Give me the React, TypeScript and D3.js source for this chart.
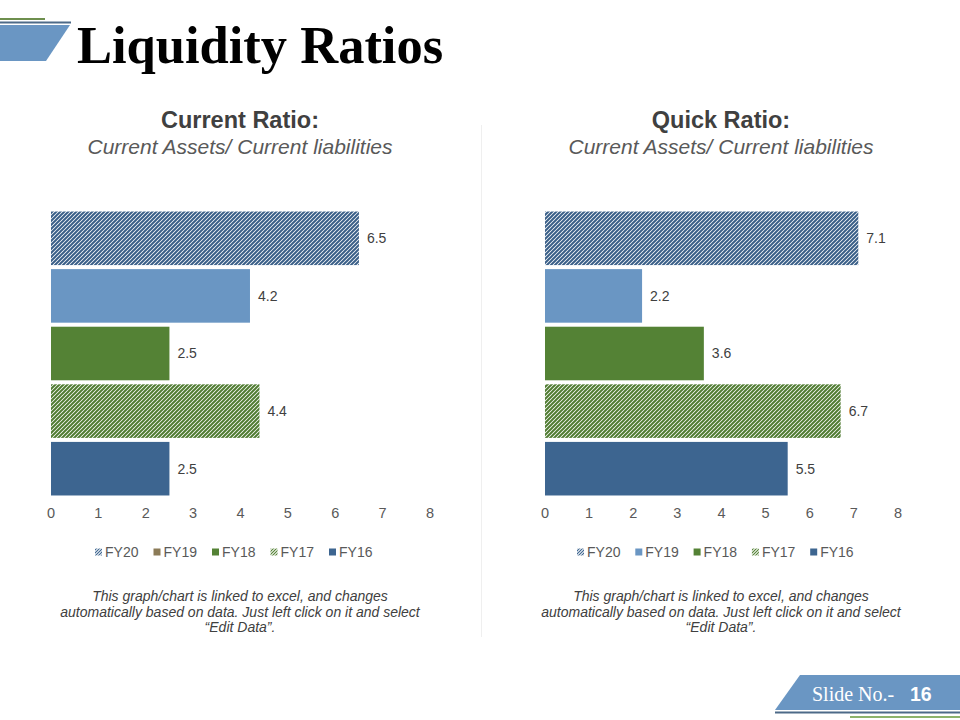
import React from "react";
import * as d3 from "d3";

const categories = ["FY20", "FY19", "FY18", "FY17", "FY16"];
const currentRatio = [6.5, 4.2, 2.5, 4.4, 2.5];
const quickRatio = [7.1, 2.2, 3.6, 6.7, 5.5];
const xTicks = [0, 1, 2, 3, 4, 5, 6, 7, 8];
const leftLegendColors = ["hatchBlue", "#8B7B57", "#548235", "hatchGreen", "#3D6590"];
const rightLegendColors = ["hatchBlue", "#6A96C3", "#548235", "hatchGreen", "#3D6590"];
const barFills = ["url(#hatchBlue)", "#6A96C3", "#548235", "url(#hatchGreen)", "#3D6590"];
const footnote = [
  "This graph/chart is linked to excel, and changes",
  "automatically based on data. Just left click on it and select",
  "\u201cEdit Data\u201d.",
];

const SANS = "'Liberation Sans', Arial, sans-serif";
const SERIF = "'Liberation Serif', 'Times New Roman', serif";

type ChartProps = {
  cx: number;
  x0: number;
  x1: number;
  values: number[];
  title: string;
  subtitle: string;
  legendColors: string[];
  legendStart: number;
  legendStep: number;
};

function Chart({ cx, x0, x1, values, title, subtitle, legendColors, legendStart, legendStep }: ChartProps) {
  const x = d3.scaleLinear().domain([0, 8]).range([x0, x1]);
  const y = d3.scaleBand<string>().domain(categories).range([209.5, 497.5]).paddingInner(0.07).paddingOuter(0.035);
  return (
    <g>
      <text x={cx} y={128} textAnchor="middle" fontFamily={SANS} fontWeight="bold" fontSize={23.5} fill="#404040">
        {title}
      </text>
      <text x={cx} y={154} textAnchor="middle" fontFamily={SANS} fontStyle="italic" fontSize={21} fill="#595959">
        {subtitle}
      </text>
      {categories.map((c, i) => (
        <g key={c}>
          <rect x={x(0)} y={y(c)} width={x(values[i]) - x(0)} height={y.bandwidth()} fill={barFills[i]} />
          <text
            x={x(values[i]) + 8}
            y={(y(c) as number) + y.bandwidth() / 2}
            dy="0.35em"
            fontFamily={SANS}
            fontSize={14}
            fill="#404040"
          >
            {values[i].toFixed(1)}
          </text>
        </g>
      ))}
      {xTicks.map((t) => (
        <text key={t} x={x(t)} y={518} textAnchor="middle" fontFamily={SANS} fontSize={14.5} fill="#595959">
          {t}
        </text>
      ))}
      {categories.map((c, i) => {
        const lx = legendStart + i * legendStep;
        const col = legendColors[i];
        const fill = col.startsWith("hatch") ? `url(#${col}L)` : col;
        return (
          <g key={c}>
            <rect x={lx} y={548.5} width={7} height={7} fill={fill} />
            <text x={lx + 10} y={557} fontFamily={SANS} fontSize={14} fill="#595959">
              {c}
            </text>
          </g>
        );
      })}
      {footnote.map((l, i) => (
        <text
          key={i}
          x={cx}
          y={601 + i * 15.5}
          textAnchor="middle"
          fontFamily={SANS}
          fontStyle="italic"
          fontSize={14}
          fill="#404040"
        >
          {l}
        </text>
      ))}
    </g>
  );
}

export default function App() {
  return (
    <svg width={960} height={720} style={{ position: "absolute", left: 0, top: 0, background: "#fff" }}>
      <defs>
        <pattern id="hatchBlue" patternUnits="userSpaceOnUse" width={4} height={4}>
          <rect width={4} height={4} fill="#ffffff" />
          <path d="M-1,1 l2,-2 M0,4 l4,-4 M3,5 l2,-2" stroke="#3A5F88" strokeWidth={2} />
        </pattern>
        <pattern id="hatchGreen" patternUnits="userSpaceOnUse" width={4} height={4}>
          <rect width={4} height={4} fill="#ffffff" />
          <path d="M-1,1 l2,-2 M0,4 l4,-4 M3,5 l2,-2" stroke="#507C32" strokeWidth={2} />
        </pattern>
        <pattern id="hatchBlueL" patternUnits="userSpaceOnUse" width={3} height={3}>
          <rect width={3} height={3} fill="#ffffff" />
          <path d="M-1,1 l2,-2 M0,3 l3,-3 M2,4 l2,-2" stroke="#3D6590" strokeWidth={1.2} />
        </pattern>
        <pattern id="hatchGreenL" patternUnits="userSpaceOnUse" width={3} height={3}>
          <rect width={3} height={3} fill="#ffffff" />
          <path d="M-1,1 l2,-2 M0,3 l3,-3 M2,4 l2,-2" stroke="#548235" strokeWidth={1.2} />
        </pattern>
      </defs>

      {/* header decoration */}
      <line x1={0} x2={45} y1={19} y2={19} stroke="#6E8F4E" strokeWidth={2} />
      <line x1={0} x2={71} y1={22.5} y2={22.5} stroke="#4D6A88" strokeWidth={2} />
      <polygon points="0,25 70,25 46,61 0,61" fill="#6A96C3" />
      <text x={77} y={63} fontFamily={SERIF} fontWeight="bold" fontSize={52.5} fill="#000">
        Liquidity Ratios
      </text>

      {/* separator */}
      <line x1={481.5} x2={481.5} y1={125} y2={637} stroke="#EFEFEF" strokeWidth={1} />

      <Chart
        cx={240}
        x0={51}
        x1={430}
        values={currentRatio}
        title="Current Ratio:"
        subtitle="Current Assets/ Current liabilities"
        legendColors={leftLegendColors}
        legendStart={95}
        legendStep={58.5}
      />
      <Chart
        cx={721}
        x0={545}
        x1={898}
        values={quickRatio}
        title="Quick Ratio:"
        subtitle="Current Assets/ Current liabilities"
        legendColors={rightLegendColors}
        legendStart={577}
        legendStep={58.3}
      />

      {/* slide number */}
      <polygon points="800,675 960,675 960,710 775,710" fill="#6A96C3" />
      <text x={812} y={701} fontFamily={SERIF} fontSize={20} fill="#fff">
        Slide No.-
      </text>
      <text x={910} y={701} fontFamily={SANS} fontWeight="bold" fontSize={19.5} fill="#fff">
        16
      </text>
      <line x1={775} x2={960} y1={712.5} y2={712.5} stroke="#4D6A88" strokeWidth={2} />
      <line x1={850} x2={960} y1={717} y2={717} stroke="#8DB36B" strokeWidth={2} />
    </svg>
  );
}
